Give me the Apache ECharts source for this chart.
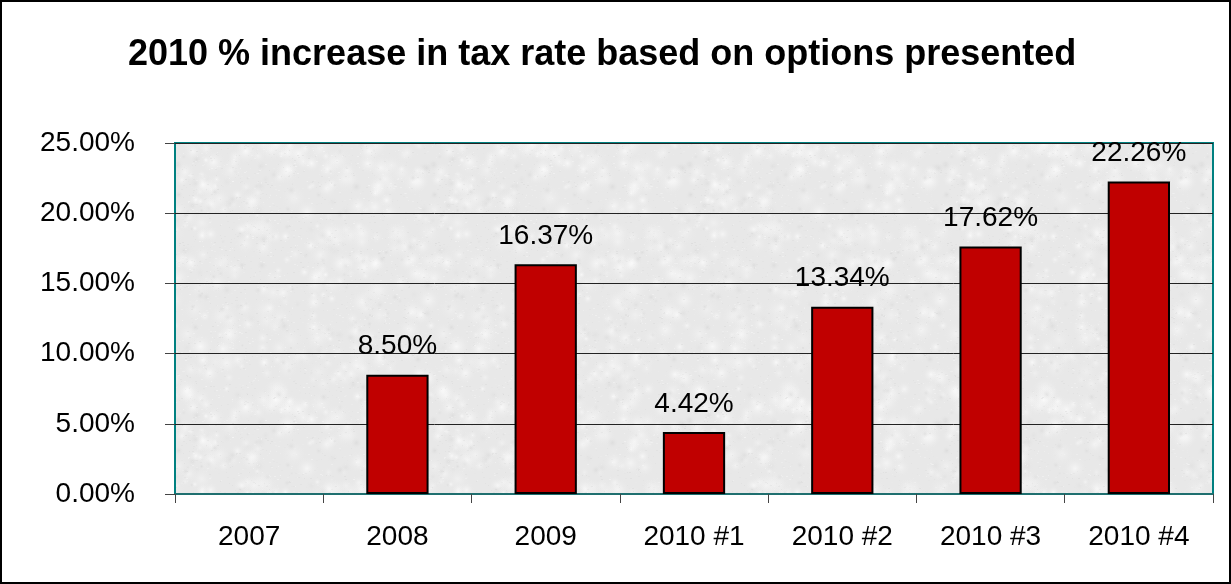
<!DOCTYPE html>
<html>
<head>
<meta charset="utf-8">
<script src="https://cdn.jsdelivr.net/npm/echarts@6/dist/echarts.min.js"></script>
<style>
html,body{margin:0;padding:0;background:#fff;}
#c{width:1231px;height:584px;}
</style>
</head>
<body>
<div id="c"></div>
<script>
const titleText = '2010 % increase in tax rate based on options presented';
const categories = ['2007', '2008', '2009', '2010 #1', '2010 #2', '2010 #3', '2010 #4'];
const values = [null, 8.50, 16.37, 4.42, 13.34, 17.62, 22.26];
const yTicks = [0, 5, 10, 15, 20, 25];

// granite-like texture (decorative style only, seeded, seamless)
function makeTexture() {
  const size = 256;
  const cv = document.createElement('canvas');
  cv.width = size; cv.height = size;
  const ctx = cv.getContext('2d');
  let s = 12345;
  const rnd = () => { s = (s * 1103515245 + 12345) & 0x7fffffff; return s / 0x7fffffff; };
  ctx.fillStyle = '#e8e8e8';
  ctx.fillRect(0, 0, size, size);
  const blob = (x, y, r, col) => {
    for (let dx = -1; dx <= 1; dx++) for (let dy = -1; dy <= 1; dy++) {
      const cx = x + dx * size, cy = y + dy * size;
      if (cx + r < 0 || cx - r > size || cy + r < 0 || cy - r > size) continue;
      const g = ctx.createRadialGradient(cx, cy, 0, cx, cy, r);
      g.addColorStop(0, col);
      g.addColorStop(1, 'rgba(232,232,232,0)');
      ctx.fillStyle = g;
      ctx.beginPath(); ctx.arc(cx, cy, r, 0, Math.PI * 2); ctx.fill();
    }
  };
  for (let i = 0; i < 300; i++) {
    const v = Math.round(240 + rnd() * 15);
    blob(rnd() * size, rnd() * size, 4 + rnd() * 10, 'rgba(' + v + ',' + v + ',' + v + ',0.7)');
  }
  for (let i = 0; i < 160; i++) {
    const v = Math.round(205 + rnd() * 20);
    blob(rnd() * size, rnd() * size, 2 + rnd() * 5, 'rgba(' + v + ',' + v + ',' + v + ',0.45)');
  }
  for (let i = 0; i < 2500; i++) {
    const v = Math.round(210 + rnd() * 45);
    ctx.fillStyle = 'rgba(' + v + ',' + v + ',' + v + ',0.35)';
    ctx.fillRect(Math.floor(rnd() * size), Math.floor(rnd() * size), 1 + Math.floor(rnd() * 2), 1);
  }
  return cv;
}

const chart = echarts.init(document.getElementById('c'), null, {renderer: 'canvas'});
const font = 'Liberation Sans, Arial, sans-serif';
chart.setOption({
  animation: false,
  backgroundColor: '#ffffff',
  title: {
    text: titleText,
    left: 123,
    top: 32,
    textStyle: {fontFamily: font, fontSize: 36, fontWeight: 'bold', color: '#000'}
  },
  graphic: [{
    type: 'rect',
    shape: {x: 1, y: 1, width: 1229, height: 582},
    style: {fill: 'none', stroke: '#000', lineWidth: 2},
    silent: true,
    z: 100
  }],
  grid: {
    left: 175, right: 18, top: 143, bottom: 90,
    show: true,
    backgroundColor: {image: makeTexture(), repeat: 'repeat'},
    borderColor: '#008080',
    borderWidth: 2
  },
  xAxis: {
    type: 'category',
    data: categories,
    axisLine: {show: true, lineStyle: {color: '#1f6f6f', width: 2}},
    axisTick: {show: true, alignWithLabel: false, length: 9, lineStyle: {color: '#444'}},
    axisLabel: {margin: 29, fontFamily: font, fontSize: 28, color: '#000'}
  },
  yAxis: {
    type: 'value',
    min: 0, max: 25, interval: 5,
    axisLine: {show: false},
    axisTick: {show: true, length: 10, lineStyle: {color: '#444'}},
    splitLine: {show: true, lineStyle: {color: '#222', width: 1}},
    axisLabel: {
      margin: 40, fontFamily: font, fontSize: 28, color: '#000',
      formatter: v => yTicks.includes(v) ? v.toFixed(2) + '%' : ''
    }
  },
  series: [{
    type: 'bar',
    data: values,
    barWidth: '42%',
    itemStyle: {color: '#C00000', borderColor: '#000', borderWidth: 2},
    label: {
      show: true, position: 'top', distance: 14,
      fontFamily: font, fontSize: 28, color: '#000',
      formatter: p => p.value == null ? '' : p.value.toFixed(2) + '%'
    }
  }]
});
</script>
</body>
</html>
